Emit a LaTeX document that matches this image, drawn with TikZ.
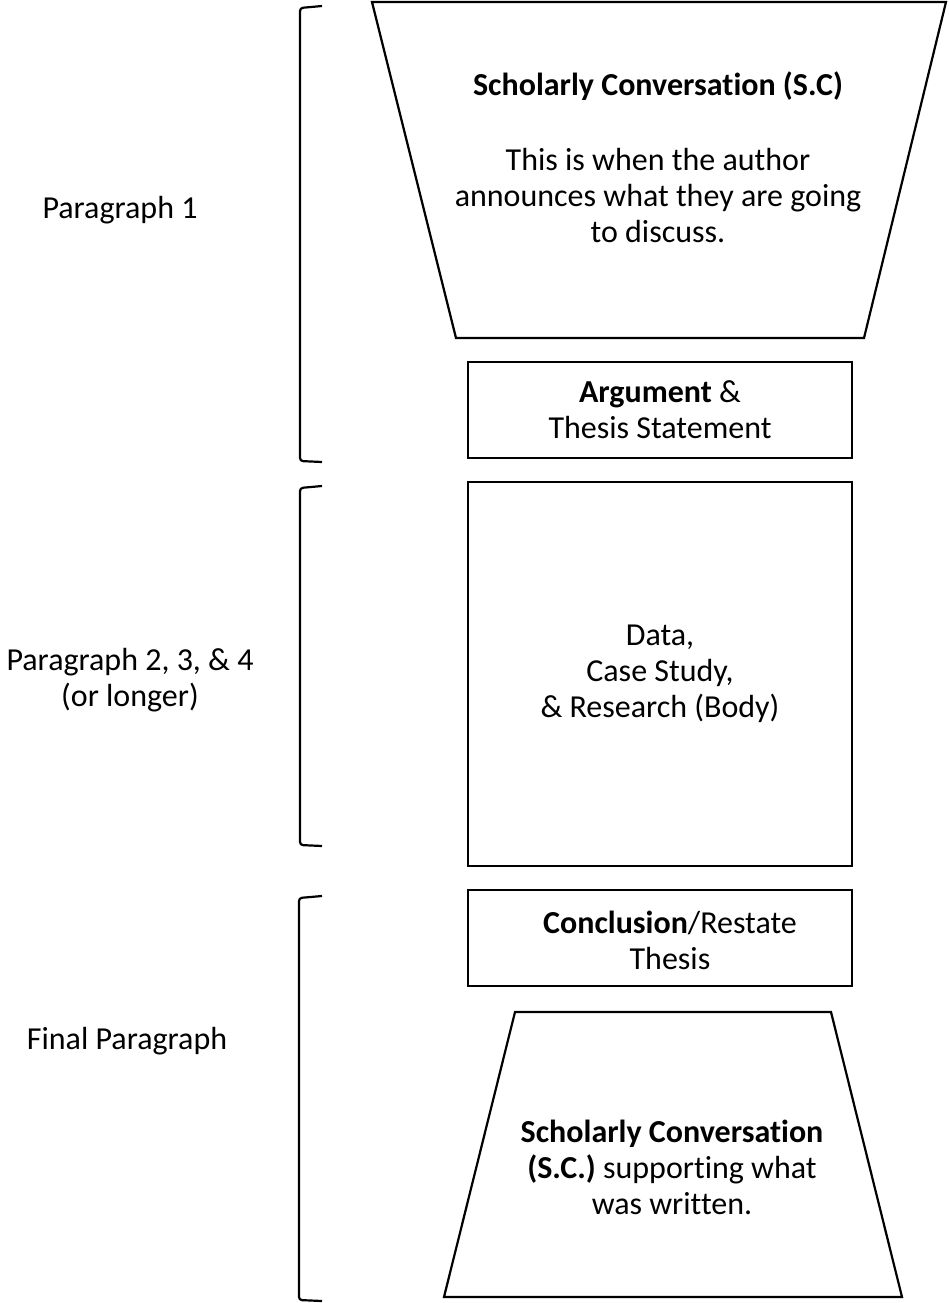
\documentclass[tikz,border=0pt]{standalone}
\usepackage{fontspec}
\setmainfont{Carlito}[Ligatures={NoCommon}]
\begin{document}
\begin{tikzpicture}[x=1pt,y=-1pt,
  ln/.style={line width=2.2pt, line join=miter},
  brk/.style={line width=2.2pt, rounded corners=3pt},
  txt/.style={align=center, inner sep=0pt, font=\fontsize{32}{36}\selectfont},
  boxnode/.style={draw, line width=2.2pt, minimum width=384pt, inner sep=0pt}
]
\useasboundingbox (0,0) rectangle (948,1303);
% brackets
\coordinate (b1t) at (322,6);
\coordinate (b1b) at (322,462);
\draw[brk] (b1t) -- (300,8) -- (300,461) -- (b1b);
\coordinate (b2t) at (322,486);
\coordinate (b2b) at (322,846);
\draw[brk] (b2t) -- (300,488) -- (300,845) -- (b2b);
\coordinate (b3t) at (322,896);
\coordinate (b3b) at (322,1301);
\draw[brk] (b3t) -- (299,898) -- (299,1300) -- (b3b);
% side labels
\node[txt] (p1) at (120,210) {Paragraph 1};
\node[txt] (p2) at (130,680) {Paragraph 2, 3, \& 4\\(or longer)};
\node[txt] (p3) at (127,1041) {Final Paragraph};
% top trapezoid
\coordinate (t1) at (372,2);
\coordinate (t2) at (946,2);
\coordinate (t3) at (864,338);
\coordinate (t4) at (456,338);
\draw[ln] (t1) -- (t2) -- (t3) -- (t4) -- cycle;
\node[txt] (sc) at (658,86) {\textbf{Scholarly Conversation (S.C)}};
\node[txt] (scb) at (658,196) {This is when the author\\announces what they are going\\to discuss.};
% argument box
\node[boxnode, minimum height=96pt, txt] (arg) at (660,410) {\textbf{Argument} \&\\Thesis Statement};
% body box
\node[boxnode, minimum height=384pt, txt] (body) at (660,674) {Data,\\Case Study,\\\& Research (Body)};
% conclusion box
\node[boxnode, minimum height=96pt] (conc) at (660,938) {};
\node[txt] (conct) at (670,940) {\textbf{Conclusion}/Restate\\Thesis};
% bottom trapezoid
\coordinate (u1) at (515,1012);
\coordinate (u2) at (831,1012);
\coordinate (u3) at (902,1297);
\coordinate (u4) at (444,1297);
\draw[ln] (u1) -- (u2) -- (u3) -- (u4) -- cycle;
\node[txt] (sc2) at (672,1167) {\textbf{Scholarly Conversation}\\\textbf{(S.C.)} supporting what\\was written.};
\end{tikzpicture}
\end{document}
